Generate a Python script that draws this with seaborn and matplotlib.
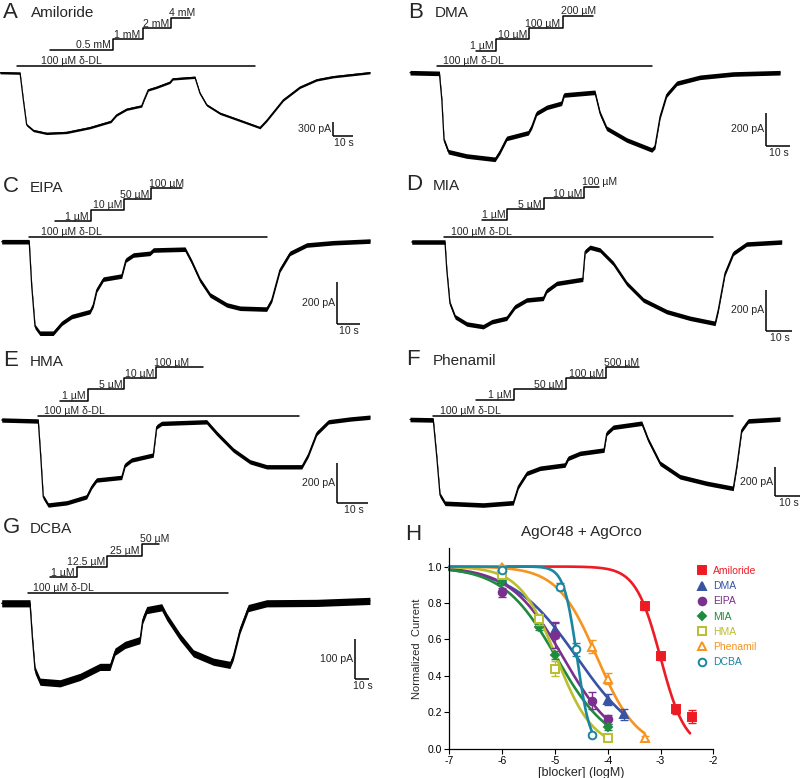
import numpy as np
import pandas as pd
import matplotlib
matplotlib.use("Agg")
import matplotlib.pyplot as plt
import seaborn as sns
from matplotlib.transforms import Affine2D, blended_transform_factory, offset_copy
from matplotlib.lines import Line2D

sns.set_theme(style="ticks", context="paper")
plt.rcParams["font.family"] = ["Liberation Sans", "DejaVu Sans"]
plt.rcParams["axes.unicode_minus"] = False

# ---------------- trace data (time in s, current in pA relative to baseline) ----------------
a_time = [0, 10.4, 12.1, 13.8, 17.3, 24.2, 34.5, 46.6, 57.5, 60.4, 65.6, 73.4, 74.6, 76.8, 81.2, 88.1, 89.5,
          101.0, 103.6, 107.1, 114.0, 124.4, 134.7, 138.2, 146.8, 155.4, 164.1, 172.7, 191.7]
a_curr = [0, -10, -570, -1090, -1210, -1270, -1250, -1150, -1020, -885, -765, -696, -570, -360, -305, -200, -130,
          -96, -430, -675, -850, -1000, -1150, -1000, -570, -305, -150, -84, 0]
a_dl = [9.0, 132.1]
a_steps = [25.9, 58.4, 73.9, 88.6, 98.4]
a_labels = ["0.5 mM", "1 mM", "2 mM", "4 mM"]

b_time = [0, 12.1, 13.1, 14.0, 15.8, 23.3, 35.0, 37.0, 39.8, 48.7, 50.1, 52.1, 56.3, 62.4, 63.4, 76.1, 78.2,
          80.9, 89.2, 99.5, 100.8, 102.9, 105.6, 109.8, 119.3, 133.0, 152.3]
b_curr = [0, -4, -165, -408, -479, -505, -525, -479, -398, -364, -327, -246, -210, -185, -135, -119, -246,
          -337, -408, -468, -448, -267, -135, -64, -28, -8, 0]
b_dl = [11.2, 99.5]
b_steps = [27.2, 35.4, 49.1, 62.8, 75.2]
b_labels = ["1 µM", "10 µM", "100 µM", "200 µM"]

c_time = [0, 11.8, 12.9, 14.3, 16.4, 22.1, 25.8, 30.0, 37.9, 39.3, 40.8, 43.6, 51.5, 53.3, 56.5, 63.6, 65.1,
          78.7, 81.5, 85.1, 89.4, 96.6, 102.3, 113.7, 115.9, 119.4, 123.7, 130.9, 142.3, 158.1]
c_curr = [0, 0, -216, -408, -440, -440, -392, -360, -336, -304, -232, -180, -165, -88, -64, -56, -40,
          -36, -96, -184, -256, -304, -320, -324, -280, -136, -56, -16, -5, 3]
c_dl = [11.8, 113.7]
c_steps = [22.9, 38.2, 52.5, 64.1, 77.3]
c_labels = ["1 µM", "10 µM", "50 µM", "100 µM"]

d_time = [0, 12.8, 13.5, 14.7, 16.7, 21.2, 27.5, 30.8, 36.5, 39.7, 44.2, 50.6, 51.9, 55.8, 65.8, 66.7, 68.6,
          72.4, 77.5, 82.7, 89.1, 98.1, 107.0, 116.7, 117.9, 120.5, 123.7, 128.8, 142.3]
d_curr = [0, 0, -137, -299, -365, -400, -413, -389, -372, -316, -283, -275, -238, -202, -182, -47, -26,
          -39, -104, -202, -283, -340, -372, -397, -332, -153, -55, -10, 0]
d_dl = [12.4, 116.0]
d_steps = [26.9, 36.8, 50.9, 66.3, 72.2]
d_labels = ["1 µM", "5 µM", "10 µM", "100 µM"]

e_time = [0, 11.8, 12.6, 13.4, 15.0, 21.0, 27.4, 29.0, 30.6, 38.7, 39.8, 41.9, 48.9, 50.0, 51.6, 66.1, 69.4,
          74.7, 80.1, 85.5, 96.8, 98.9, 101.6, 105.4, 112.4, 118.8]
e_curr = [0, -5, -184, -384, -425, -414, -384, -334, -300, -287, -225, -200, -175, -34, -17, -9, -67,
          -150, -209, -234, -234, -175, -67, -9, 5, 14]
e_dl = [11.8, 96.0]
e_steps = [18.8, 27.7, 39.5, 49.8, 65.0]
e_labels = ["1 µM", "5 µM", "10 µM", "100 µM"]

f_time = [0, 9.3, 10.7, 12.0, 14.0, 29.3, 41.3, 43.3, 46.7, 52.0, 62.0, 63.3, 68.0, 77.6, 78.7, 81.3, 92.7,
          95.3, 100.0, 108.0, 118.7, 129.3, 130.7, 132.7, 135.3, 148.0]
f_curr = [0, -3, -259, -526, -584, -596, -580, -468, -375, -340, -317, -270, -236, -213, -96, -54, -26,
          -143, -305, -399, -445, -480, -329, -73, -10, 3]
f_dl = [9.3, 129.3]
f_steps = [26.4, 41.6, 62.3, 78.4, 91.7]
f_labels = ["1 µM", "50 µM", "100 µM", "500 µM"]

g_time = [0, 19.8, 21.4, 23.3, 26.8, 40.8, 54.8, 68.7, 75.7, 79.2, 86.2, 96.7, 98.6, 101.4, 111.9, 115.4,
          124.7, 134.0, 148.0, 159.6, 161.9, 166.6, 172.4, 185.3, 220.3, 257.5]
g_curr = [0, 0, -84, -167, -196, -200, -184, -159, -159, -121, -104, -92, -42, -17, -10, -34,
          -84, -125, -146, -154, -134, -67, -12, 0, 1, 6]
g_dl = [18.6, 158.5]
g_steps = [33.8, 52.4, 73.8, 97.9, 110.2]
g_labels = ["1 µM", "12.5 µM", "25 µM", "50 µM"]

# scale bar current values (pA) and noise half-amplitude (pA)
scale_pA = {"A": 300, "B": 200, "C": 200, "D": 200, "E": 200, "F": 200, "G": 100}
noise_pA = {"A": 24, "B": 14, "C": 11, "D": 11, "E": 11, "F": 16, "G": 9}

# ---------------- panel H data ----------------
drugs = ["Amiloride", "DMA", "EIPA", "MIA", "HMA", "Phenamil", "DCBA"]
amil_x = [-3.3, -3.0, -2.7, -2.4];        amil_y = [0.784, 0.509, 0.216, 0.176];   amil_e = [0.02, 0.02, 0.025, 0.035]
dma_x = [-6, -5, -4, -3.7];               dma_y = [0.93, 0.65, 0.268, 0.19];       dma_e = [0.02, 0.04, 0.03, 0.03]
eipa_x = [-6, -5, -4.3, -4];              eipa_y = [0.859, 0.625, 0.264, 0.161];   eipa_e = [0.025, 0.07, 0.045, 0.025]
mia_x = [-6, -5.3, -5, -4];               mia_y = [0.92, 0.67, 0.515, 0.118];      mia_e = [0.02, 0.02, 0.02, 0.015]
hma_x = [-6, -5.3, -5, -4];               hma_y = [0.955, 0.71, 0.44, 0.057];      hma_e = [0.02, 0.03, 0.04, 0.015]
phen_x = [-6, -4.3, -4, -3.3];            phen_y = [1.0, 0.56, 0.383, 0.06];       phen_e = [0.01, 0.035, 0.03, 0.01]
dcba_x = [-6, -4.9, -4.6, -4.3];          dcba_y = [0.982, 0.89, 0.546, 0.075];    dcba_e = [0.01, 0.02, 0.035, 0.01]

# fitted dose-response parameters: logIC50, Hill slope, fitted x range
fit_logic50 = [-3.0, -4.58, -4.84, -4.97, -4.97, -4.2, -4.58]
fit_hill = [1.85, 0.71, 0.865, 0.86, 1.24, 1.15, 3.5]
fit_start = [-6.0, -7.0, -7.0, -7.0, -7.0, -7.0, -7.0]
fit_end = [-2.44, -3.7, -4.0, -4.0, -4.0, -3.3, -4.3]

colors = ["#ED1C24", "#3953A4", "#7B2F8E", "#1E8B3F", "#BABF2E", "#F7941D", "#1A86A2"]
markers = ["s", "^", "o", "D", "s", "^", "o"]
filled = [True, True, True, True, False, False, False]

# ---------------- figure ----------------
W, H = 800, 778
fig = plt.figure(figsize=(W / 100, H / 100), dpi=100)
PIX = Affine2D().scale(1 / W, -1 / H).translate(0, 1) + fig.transFigure

# layout (pixels): cell, time origin x, baseline y, px per s, px per pA, stimulus level y's, label offset, scale corner
layout = {
    "A": dict(cell=(0, 0, 400, 150), xo=0.0, yb=72.7, pxps=1.93, pxpa=0.0478,
              lev=[66, 50, 39.3, 28.3, 17.7], dloff=24, corner=(333.3, 136), name="Amiloride", title=(3, 12, 30.7)),
    "B": dict(cell=(400, 0, 800, 160), xo=410, yb=72.7, pxps=2.43, pxpa=0.165,
              lev=[66, 50.7, 39.3, 28.3, 16], dloff=6, corner=(765.7, 145.7), name="DMA", title=(408, 12, 435)),
    "C": dict(cell=(0, 170, 400, 335), xo=1.7, yb=241.7, pxps=2.33, pxpa=0.208,
              lev=[236.7, 221, 210, 199.3, 188.3], dloff=12, corner=(336.7, 324), name="EIPA", title=(3, 187, 30)),
    "D": dict(cell=(400, 170, 800, 340), xo=411.7, yb=242, pxps=2.6, pxpa=0.205,
              lev=[236.7, 220, 209, 198.3, 186.7], dloff=7, corner=(765.7, 331), name="MIA", title=(406, 185, 433)),
    "E": dict(cell=(0, 340, 400, 515), xo=1.7, yb=420, pxps=3.1, pxpa=0.2,
              lev=[416, 400.7, 389.3, 378.3, 367.3], dloff=6, corner=(337.3, 502.7), name="HMA", title=(3, 360.7, 30)),
    "F": dict(cell=(400, 340, 800, 515), xo=410, yb=419.5, pxps=2.5, pxpa=0.1435,
              lev=[416, 400, 389.3, 378.3, 367.3], dloff=7, corner=(775, 496), name="Phenamil", title=(406, 360, 433)),
    "G": dict(cell=(0, 520, 400, 720), xo=1.7, yb=603.3, pxps=1.43, pxpa=0.4,
              lev=[592.7, 577.3, 566.7, 555.7, 544], dloff=5, corner=(355, 679.3), name="DCBA", title=(3, 528, 30)),
}

traces = {
    "A": (a_time, a_curr, a_dl, a_steps, a_labels),
    "B": (b_time, b_curr, b_dl, b_steps, b_labels),
    "C": (c_time, c_curr, c_dl, c_steps, c_labels),
    "D": (d_time, d_curr, d_dl, d_steps, d_labels),
    "E": (e_time, e_curr, e_dl, e_steps, e_labels),
    "F": (f_time, f_curr, f_dl, f_steps, f_labels),
    "G": (g_time, g_curr, g_dl, g_steps, g_labels),
}

STIM_FS = 7.6
for key, (t, cur, dl, steps, labels) in traces.items():
    L = layout[key]
    X0, Y0, X1, Y1 = L["cell"]
    ax = fig.add_axes([X0 / W, 1 - Y1 / H, (X1 - X0) / W, (Y1 - Y0) / H])
    ax.set_xlim((X0 - L["xo"]) / L["pxps"], (X1 - L["xo"]) / L["pxps"])
    ax.set_ylim((L["yb"] - Y1) / L["pxpa"], (L["yb"] - Y0) / L["pxpa"])
    ax.axis("off")

    df = pd.DataFrame({"t": t, "I": cur})
    nz = noise_pA[key]
    ax.fill_between(df["t"], df["I"] - nz, df["I"] + nz, color="black", lw=0, clip_on=False)
    sns.lineplot(data=df, x="t", y="I", ax=ax, color="black", lw=0.9, sort=False, estimator=None)
    for ln in ax.lines:
        ln.set_clip_on(False)

    # stimulus bars
    bt = blended_transform_factory(ax.transData, PIX)
    lev = L["lev"]
    ax.plot(dl, [lev[0], lev[0]], transform=bt, color="black", lw=1.1, clip_on=False)
    xs, ys = [steps[0]], [lev[1]]
    for i in range(1, len(steps) - 1):
        xs += [steps[i], steps[i]]
        ys += [lev[i], lev[i + 1]]
    xs.append(steps[-1]); ys.append(lev[len(steps) - 1])
    ax.plot(xs, ys, transform=bt, color="black", lw=1.1, clip_on=False)

    ax.text(dl[0], lev[0] - 1.5, "100 µM δ-DL", transform=offset_copy(bt, fig, x=L["dloff"], units="dots"),
            fontsize=STIM_FS, ha="left", va="baseline")
    n = len(labels)
    for i, lab in enumerate(labels):
        if i < n - 1:
            ax.text(steps[i + 1], lev[i + 1] - 1.5, lab, transform=offset_copy(bt, fig, x=-2, units="dots"),
                    fontsize=STIM_FS, ha="right", va="baseline")
        else:
            ax.text(steps[i], lev[i + 1] - 1.5, lab, transform=offset_copy(bt, fig, x=-2, units="dots"),
                    fontsize=STIM_FS, ha="left", va="baseline")

    # scale bars
    cx, cy = L["corner"]
    tc = (cx - L["xo"]) / L["pxps"]
    ic = (L["yb"] - cy) / L["pxpa"]
    ax.plot([tc, tc + 10], [ic, ic], color="black", lw=1.1, clip_on=False, solid_capstyle="butt")
    ax.plot([tc, tc], [ic, ic + scale_pA[key]], color="black", lw=1.1, clip_on=False, solid_capstyle="butt")
    barpx = scale_pA[key] * L["pxpa"]
    fig.text(cx - 2, cy - barpx / 2, f"{scale_pA[key]} pA", transform=PIX, fontsize=STIM_FS,
             ha="right", va="center")
    fig.text(cx + 5 * L["pxps"] + 1, cy + 2, "10 s", transform=PIX, fontsize=STIM_FS, ha="center", va="top")

    lx, ly, nx = L["title"]
    fig.text(lx, ly, key, transform=PIX, fontsize=16, ha="left", va="center")
    fig.text(nx, ly + 1, L["name"], transform=PIX, fontsize=11, ha="left", va="center")

# ---------------- panel H ----------------
axH = fig.add_axes([449.3 / W, 1 - 748.7 / H, 264 / W, 200.4 / H])
xs_all = [amil_x, dma_x, eipa_x, mia_x, hma_x, phen_x, dcba_x]
ys_all = [amil_y, dma_y, eipa_y, mia_y, hma_y, phen_y, dcba_y]
es_all = [amil_e, dma_e, eipa_e, mia_e, hma_e, phen_e, dcba_e]

rows = []
for d, c50, h, s, e in zip(drugs, fit_logic50, fit_hill, fit_start, fit_end):
    xx = np.linspace(s, e, 200)
    yy = 1.0 / (1.0 + 10 ** ((xx - c50) * h))
    rows.append(pd.DataFrame({"logc": xx, "resp": yy, "drug": d}))
curves = pd.concat(rows, ignore_index=True)
sns.lineplot(data=curves, x="logc", y="resp", hue="drug", hue_order=drugs,
             palette=dict(zip(drugs, colors)), lw=1.9, legend=False, sort=False, estimator=None, ax=axH)
for ln in axH.lines:
    ln.set_clip_on(False)

handles = []
for d, x, y, e, c, m, f in zip(drugs, xs_all, ys_all, es_all, colors, markers, filled):
    axH.errorbar(x, y, yerr=e, fmt="none", ecolor=c, elinewidth=1.0, capsize=3, capthick=1.0, clip_on=False)
    ms = 4.5 if m == "D" else 5.5
    axH.plot(x, y, ls="", marker=m, ms=ms, mfc=c if f else "white", mec=c, mew=1.4, clip_on=False)
    handles.append(Line2D([], [], ls="", marker=m, ms=ms, mfc=c if f else "white", mec=c, mew=1.4))

axH.set_xlim(-7, -2)
axH.set_ylim(0, 1.1)
axH.set_xticks([-7, -6, -5, -4, -3, -2])
axH.set_xticklabels(["-7", "-6", "-5", "-4", "-3", "-2"])
axH.set_yticks([0, 0.2, 0.4, 0.6, 0.8, 1.0])
axH.set_yticklabels(["0.0", "0.2", "0.4", "0.6", "0.8", "1.0"])
axH.tick_params(axis="both", direction="out", length=3.5, width=0.8, labelsize=7.5, pad=2, colors="black")
for sp in ["top", "right"]:
    axH.spines[sp].set_visible(False)
for sp in ["left", "bottom"]:
    axH.spines[sp].set_linewidth(0.9)
    axH.spines[sp].set_color("black")
axH.set_xlabel("[blocker] (logM)", fontsize=9, labelpad=0.5)
axH.set_ylabel("Normalized  Current", fontsize=8, labelpad=4)
axH.set_title("AgOr48 + AgOrco", fontsize=11, pad=9)

leg = axH.legend(handles, drugs, loc="upper left", bbox_to_anchor=(697 / W, 1 - 566 / H),
                 bbox_transform=fig.transFigure, frameon=False, fontsize=7.5, labelcolor=colors,
                 handlelength=1.0, handletextpad=0.5, labelspacing=0.5, borderpad=0, borderaxespad=0)

fig.text(405, 535, "H", transform=PIX, fontsize=16, ha="left", va="center")

fig.savefig("out.png", dpi=100)
